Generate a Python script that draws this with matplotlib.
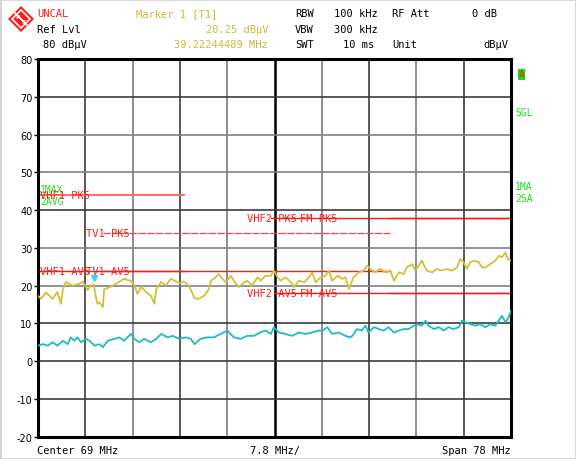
import numpy as np
import matplotlib
matplotlib.use("Agg")
import matplotlib.pyplot as plt
from matplotlib.patches import Polygon
from matplotlib.transforms import offset_copy

# trace 1 (max hold, yellow): frequency in MHz, level in dBuV
max_freq = [30.0, 30.5, 31.3, 32.4, 33.2, 33.8, 34.1, 34.6, 35.7, 36.8, 37.4, 38.2, 38.7, 39.22,
            39.5, 39.8, 40.1, 40.7, 40.9, 42.0, 43.4, 44.2, 45.3, 45.9, 46.4, 47.0, 47.8, 48.6,
            49.2, 49.5, 50.3, 51.1, 51.9, 53.3, 54.1, 54.9, 55.8, 56.5, 57.4, 58.2, 58.5, 59.3,
            59.8, 60.4, 61.0, 61.8, 62.3, 63.1, 64.0, 64.5, 65.3, 66.2, 66.7, 67.5, 68.4, 68.9,
            69.5, 70.0, 70.8, 71.7, 72.2, 73.0, 73.9, 74.7, 75.2, 75.8, 76.6, 77.4, 78.0, 78.5,
            79.4, 80.2, 80.7, 81.3, 82.0, 82.3, 82.9, 83.7, 84.3, 84.8, 85.6, 86.4, 87.3, 88.1,
            88.7, 89.5, 90.3, 90.8, 91.7, 92.2, 92.8, 93.3, 94.1, 95.0, 95.8, 96.6, 97.4, 98.3,
            99.1, 99.6, 100.2, 100.7, 101.3, 101.8, 102.7, 103.2, 103.8, 104.6, 105.4, 106.0,
            106.5, 107.1, 107.5, 108.0]
max_level = [17.3, 16.5, 18.2, 16.5, 18.3, 15.2, 19.0, 21.0, 20.0, 20.5, 21.0, 18.8, 20.0, 20.25,
             17.3, 15.2, 15.6, 14.3, 19.0, 19.7, 21.0, 21.8, 21.2, 20.0, 17.8, 19.7, 18.3, 17.3,
             15.2, 19.0, 21.0, 20.0, 21.8, 20.7, 21.0, 20.0, 16.7, 16.5, 17.3, 19.1, 21.3, 22.2,
             23.1, 21.8, 20.9, 22.6, 21.3, 19.6, 20.9, 21.3, 20.0, 22.2, 21.3, 22.6, 22.6, 24.0,
             22.2, 21.3, 22.2, 20.9, 19.6, 21.3, 20.9, 22.2, 23.5, 20.9, 22.2, 22.6, 24.0, 21.3,
             22.6, 21.8, 22.2, 19.1, 22.2, 22.6, 23.5, 24.0, 25.3, 24.4, 23.5, 24.4, 23.5, 24.0,
             21.3, 23.5, 23.1, 24.8, 25.7, 24.0, 25.3, 26.6, 24.0, 23.5, 24.4, 24.0, 24.4, 24.0,
             24.8, 27.0, 26.2, 24.4, 26.2, 26.6, 26.2, 24.8, 24.8, 25.7, 26.6, 27.9,
             27.5, 28.8, 27.0, 26.6]

# trace 2 (average, cyan)
avg_freq = [30.0, 30.8, 31.6, 32.4, 33.2, 34.1, 34.9, 35.4, 36.0, 36.5, 37.1, 37.9, 38.5, 39.3,
            40.1, 40.7, 41.5, 42.6, 43.4, 44.2, 45.3, 45.9, 46.7, 47.5, 48.6, 49.5, 50.3, 51.4,
            52.2, 53.3, 54.4, 55.2, 55.8, 56.8, 57.9, 59.0, 60.1, 61.2, 62.3, 63.4, 64.5, 65.6,
            66.7, 67.5, 68.4, 68.9, 69.7, 70.8, 71.9, 73.0, 74.1, 75.2, 76.3, 76.9, 77.7, 78.5,
            79.6, 80.7, 81.5, 81.9, 82.6, 83.4, 84.0, 84.5, 85.4, 86.2, 87.0, 87.8, 88.7, 89.5,
            90.3, 91.1, 92.0, 92.5, 93.3, 93.9, 94.4, 95.3, 96.1, 96.9, 97.7, 98.5, 99.4, 99.9,
            100.5, 101.3, 102.1, 102.9, 103.8, 104.6, 105.4, 106.0, 106.5, 107.1, 107.6, 108.0]
avg_level = [4.1, 4.5, 4.1, 5.0, 4.1, 5.4, 4.5, 6.3, 5.4, 6.3, 5.0, 5.9, 5.4, 4.1,
             4.5, 3.7, 5.4, 5.9, 6.3, 5.4, 7.2, 5.9, 5.0, 5.9, 5.0, 5.9, 7.2, 6.3,
             6.7, 5.9, 6.3, 5.9, 4.5, 5.9, 6.3, 6.3, 7.2, 8.1, 6.3, 5.9, 6.7, 6.7,
             7.6, 8.1, 7.2, 9.0, 7.6, 7.2, 6.7, 7.6, 7.2, 7.6, 8.1, 8.1, 9.0, 7.2,
             7.6, 6.7, 6.3, 6.8, 8.5, 8.1, 9.4, 7.6, 9.0, 8.5, 8.1, 9.0, 7.6, 8.1,
             8.5, 8.5, 9.4, 9.8, 9.4, 10.7, 9.4, 8.5, 9.0, 8.1, 9.0, 8.5, 9.0, 10.7,
             10.3, 9.8, 9.4, 9.8, 9.0, 9.8, 9.4, 10.7, 12.0, 10.3, 11.6, 13.3]

# limit lines
limit_names = ['VHF1 PK5', 'TV1 PK5', 'VHF2 PK5', 'FM PK5',
               'VHF1 AV5', 'TV1 AV5', 'VHF2 AV5', 'FM AV5']
limit_start = [30, 40.7, 68.4, 88, 30, 40.7, 68.9, 88]
limit_stop = [54, 88, 108, 108, 54, 88, 108, 108]
limit_level = [44, 34, 38, 38, 24, 24, 18, 18]
label_at = [30.3, 37.9, 64.5, 73.2, 30.3, 37.9, 64.5, 73.2]

marker_freq = 39.22244489
marker_level = 20.25

center_mhz = 69
span_mhz = 78
ref_level = 80
y_ticks = [80, 70, 60, 50, 40, 30, 20, 10, 0, -10, -20]

W, H = 576, 460
fig = plt.figure(figsize=(W / 100, H / 100), dpi=100, facecolor='white')

def fx(x):
    return x / W

def fy(y):
    return 1 - y / H

ax = fig.add_axes([fx(38), fy(437.7), fx(511 - 38), (437.7 - 60) / H])
f0 = center_mhz - span_mhz / 2
f1 = center_mhz + span_mhz / 2
ax.set_xlim(f0, f1)
ax.set_ylim(-20, 80)

# graticule
div = span_mhz / 10
for k in range(1, 10):
    f = f0 + k * div
    if k == 5:
        ax.axvline(f, color='black', lw=1.8, zorder=1)
    else:
        ax.axvline(f, color='#3c3c3c' if k % 2 else '#7a7a7a', lw=1.2, zorder=1)
for v in y_ticks[1:-1]:
    ax.axhline(v, color='#3c3c3c' if v in (70, 40, 10, 0, -10) else '#808080', lw=1.2, zorder=1)

ax.set_xticks([])
ax.set_yticks(y_ticks)
ax.set_yticklabels([str(v) for v in y_ticks], fontsize=7, family='DejaVu Sans')
ax.tick_params(axis='y', length=3, width=1, pad=1)
for s in ax.spines.values():
    s.set_linewidth(2.2)

# limit lines with labels
for name, a, b, lvl, lx in zip(limit_names, limit_start, limit_stop, limit_level, label_at):
    col = '#ff6a6a' if name == 'VHF1 PK5' else '#ff1a1a'
    lw = 1.4 if name == 'VHF1 PK5' else 1.0
    if name == 'TV1 PK5':
        ax.plot([a, b], [lvl, lvl], color='#ff4040', lw=0.9, ls=(0, (6, 1)), zorder=2)
    else:
        ax.plot([a, b], [lvl, lvl], color=col, lw=lw, zorder=2)
    ax.text(lx, lvl, name, color='#ff1a1a', fontsize=7.5, family='DejaVu Sans Mono',
            va='center', ha='left', zorder=4)

# traces
ax.plot(max_freq, max_level, color='#d2c03a', lw=1.3, zorder=3)
ax.plot(avg_freq, avg_level, color='#1cbcc0', lw=1.3, zorder=3)

# marker
mk = offset_copy(ax.transData, fig=fig, x=0, y=5, units='points')
ax.plot([marker_freq], [marker_level], marker='v', color='#30d8f0', markersize=5,
        transform=mk, zorder=5)
mk2 = offset_copy(ax.transData, fig=fig, x=0, y=10, units='points')
ax.text(marker_freq, marker_level, '1', color='#30d8f0', fontsize=5, ha='center',
        va='bottom', transform=mk2, zorder=5)

# trace labels
green = '#18e018'
ax.text(30.3, 45.6, '1MAX', color=green, fontsize=7, family='DejaVu Sans Mono', va='center')
ax.text(30.3, 42.4, '2AVG', color=green, fontsize=7, family='DejaVu Sans Mono', va='center')
fig.text(fx(515), fy(113), 'SGL', color=green, fontsize=7, family='DejaVu Sans Mono', va='center')
fig.text(fx(515), fy(187), '1MA', color=green, fontsize=7, family='DejaVu Sans Mono', va='center')
fig.text(fx(515), fy(199), '2SA', color=green, fontsize=7, family='DejaVu Sans Mono', va='center')
fig.text(fx(521.5), fy(75.5), 'A', color='#ff2020', fontsize=7, family='DejaVu Sans Mono',
         ha='center', va='center',
         bbox=dict(boxstyle='square,pad=0.1', facecolor='#10e010', edgecolor='none'))

# header
mono = dict(family='DejaVu Sans Mono', fontsize=7.5)
gold = '#cdb93c'
fig.text(fx(37), fy(14), 'UNCAL', color='#ff1a1a', va='center', **mono)
fig.text(fx(37), fy(30), 'Ref Lvl', color='black', va='center', **mono)
fig.text(fx(43), fy(45), f'{ref_level} dB\u00b5V', color='black', va='center', **mono)
fig.text(fx(136), fy(14), 'Marker 1 [T1]', color=gold, va='center', **mono)
fig.text(fx(268), fy(30), f'{marker_level:.2f} dB\u00b5V', color=gold, va='center', ha='right', **mono)
fig.text(fx(268), fy(45), f'{marker_freq:.8f} MHz', color=gold, va='center', ha='right', **mono)

fig.text(fx(295), fy(14), 'RBW', va='center', **mono)
fig.text(fx(334), fy(14), '100 kHz', va='center', **mono)
fig.text(fx(392), fy(14), 'RF Att', va='center', **mono)
fig.text(fx(497), fy(14), '0 dB', va='center', ha='right', **mono)
fig.text(fx(295), fy(30), 'VBW', va='center', **mono)
fig.text(fx(334), fy(30), '300 kHz', va='center', **mono)
fig.text(fx(295), fy(45), 'SWT', va='center', **mono)
fig.text(fx(343), fy(45), '10 ms', va='center', **mono)
fig.text(fx(392), fy(45), 'Unit', va='center', **mono)
fig.text(fx(508), fy(45), 'dB\u00b5V', va='center', ha='right', **mono)

# footer
fig.text(fx(37), fy(451), f'Center {center_mhz} MHz', va='center', **mono)
fig.text(fx(275), fy(451), f'{div:.1f} MHz/', va='center', ha='center', **mono)
fig.text(fx(511), fy(451), f'Span {span_mhz} MHz', va='center', ha='right', **mono)

# R&S logo
lg = fig.add_axes([fx(8), fy(33), fx(26), 26 / H])
lg.set_xlim(-1, 1)
lg.set_ylim(-1, 1)
lg.axis('off')
lg.add_patch(Polygon([[0, 1], [1, 0], [0, -1], [-1, 0]], closed=True, facecolor='#ff1a1a', edgecolor='none'))
lg.add_patch(Polygon([[0, 0.78], [0.78, 0], [0, -0.78], [-0.78, 0]], closed=True, facecolor='white', edgecolor='none'))
lg.add_patch(Polygon([[0, 0.6], [0.6, 0], [0, -0.6], [-0.6, 0]], closed=True, facecolor='#ff1a1a', edgecolor='none'))
lg.plot([-0.45, 0.45], [0.45, -0.45], color='white', lw=1.2)
lg.text(-0.22, 0.18, 'R', color='white', fontsize=4.5, ha='center', va='center', weight='bold')
lg.text(0.22, -0.22, 'S', color='white', fontsize=4.5, ha='center', va='center', weight='bold')

# light frame
fig.patches.append(plt.Rectangle((0, 0), 1, 1, transform=fig.transFigure, fill=False,
                                 edgecolor='#d4d4d4', lw=2))

fig.savefig('out.png', dpi=100, facecolor='white')
